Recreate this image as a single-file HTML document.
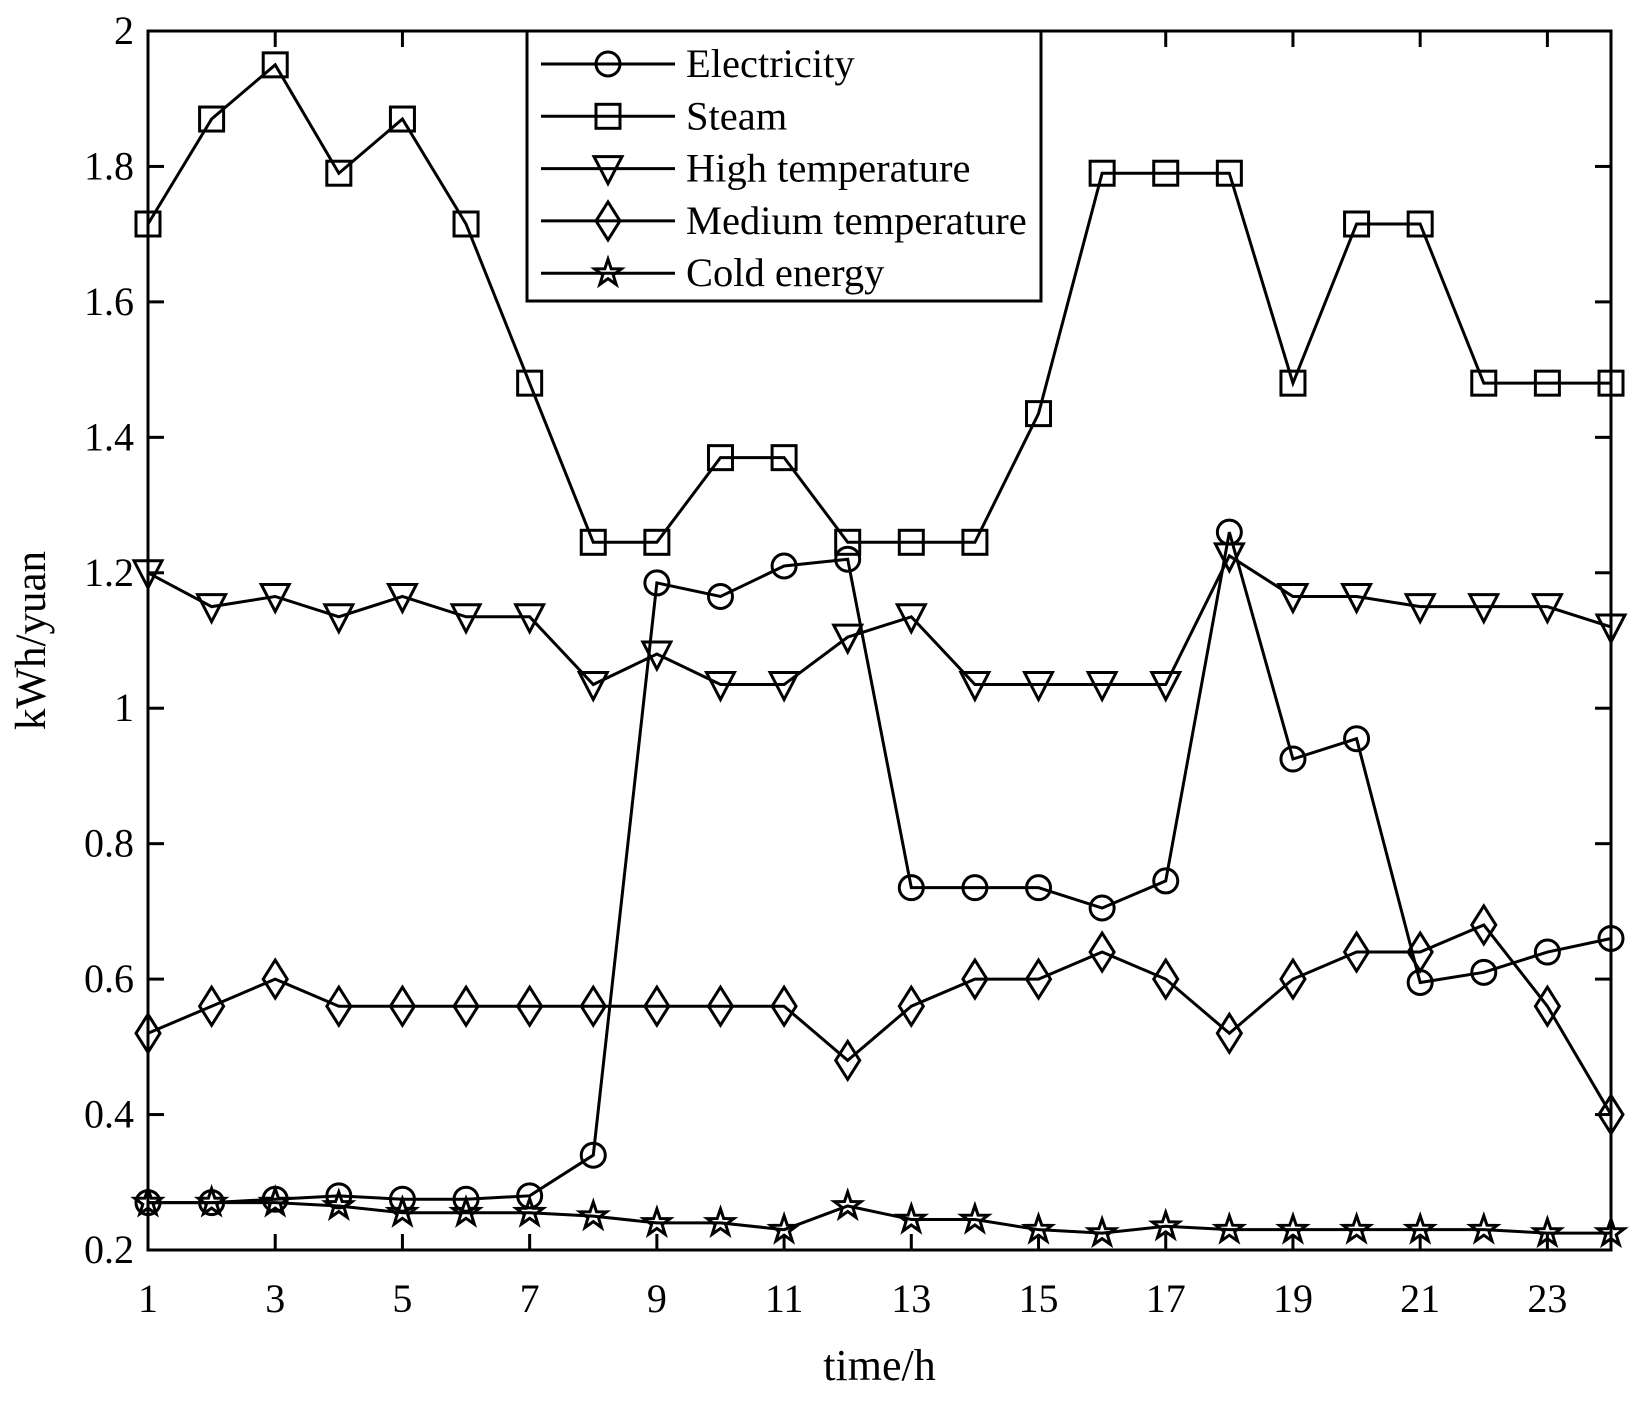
<!DOCTYPE html>
<html><head><meta charset="utf-8"><style>body{margin:0;background:#fff}svg{display:block}</style></head>
<body>
<svg id="s" width="1641" height="1402" xmlns="http://www.w3.org/2000/svg" font-family="Liberation Serif, serif"></svg>
<script>
const s=document.getElementById('s');
const L=148,R=1611,T=31,B=1250;
const X=h=>L+(h-1)*(R-L)/23, Y=v=>B-(v-0.2)*(B-T)/1.8;
let o='<rect width="1641" height="1402" fill="#fff"/>';
o+=`<rect x="${L}" y="${T}" width="${R-L}" height="${B-T}" fill="none" stroke="#000" stroke-width="3"/>`;
for(let v=0.2;v<=2.001;v+=0.2){const y=Y(v);o+=`<line x1="${L}" y1="${y}" x2="${L+16}" y2="${y}" stroke="#000" stroke-width="3"/><line x1="${R}" y1="${y}" x2="${R-16}" y2="${y}" stroke="#000" stroke-width="3"/>`;
const t=(Math.round(v*10)/10).toString();o+=`<text x="${L-14}" y="${y+13}" font-size="40" text-anchor="end">${t}</text>`;}
for(let h=1;h<=23;h+=2){const x=X(h);o+=`<line x1="${x}" y1="${B}" x2="${x}" y2="${B-16}" stroke="#000" stroke-width="3"/><line x1="${x}" y1="${T}" x2="${x}" y2="${T+16}" stroke="#000" stroke-width="3"/><text x="${x}" y="${B+62}" font-size="40" text-anchor="middle">${h}</text>`;}
o+=`<text x="${(L+R)/2}" y="1380" font-size="44" text-anchor="middle">time/h</text>`;
o+=`<text transform="translate(45,${(T+B)/2}) rotate(-90)" font-size="43" text-anchor="middle">kWh/yuan</text>`;
const D={
c:[0.27,0.27,0.275,0.28,0.275,0.275,0.28,0.34,1.185,1.165,1.21,1.22,0.735,0.735,0.735,0.705,0.745,1.26,0.925,0.955,0.595,0.61,0.64,0.66],
s:[1.715,1.87,1.95,1.79,1.87,1.715,1.48,1.245,1.245,1.37,1.37,1.245,1.245,1.245,1.435,1.79,1.79,1.79,1.48,1.715,1.715,1.48,1.48,1.48],
t:[1.2,1.15,1.165,1.135,1.165,1.135,1.135,1.035,1.08,1.035,1.035,1.105,1.135,1.035,1.035,1.035,1.035,1.225,1.165,1.165,1.15,1.15,1.15,1.12],
d:[0.52,0.56,0.6,0.56,0.56,0.56,0.56,0.56,0.56,0.56,0.56,0.48,0.56,0.6,0.6,0.64,0.6,0.52,0.6,0.64,0.64,0.68,0.56,0.40],
p:[0.27,0.27,0.27,0.265,0.255,0.255,0.255,0.25,0.24,0.24,0.23,0.265,0.245,0.245,0.23,0.225,0.235,0.23,0.23,0.23,0.23,0.23,0.225,0.225]};
function mk(k,x,y){const a='fill="none" stroke="#000" stroke-width="3"';
if(k=='c')return `<circle cx="${x}" cy="${y}" r="12" ${a}/>`;
if(k=='s')return `<rect x="${x-12}" y="${y-12}" width="24" height="24" ${a}/>`;
if(k=='t')return `<polygon points="${x-14},${y-12} ${x+14},${y-12} ${x},${y+15}" ${a}/>`;
if(k=='d')return `<polygon points="${x},${y-19} ${x+12},${y} ${x},${y+19} ${x-12},${y}" ${a}/>`;
let p=[];for(let i=0;i<10;i++){const r=i%2?5.5:14,an=-Math.PI/2+i*Math.PI/5;p.push((x+r*Math.cos(an)).toFixed(1)+','+(y+r*Math.sin(an)).toFixed(1));}
return `<polygon points="${p.join(' ')}" ${a}/>`;}
for(const k in D){o+=`<polyline points="${D[k].map((v,i)=>X(i+1)+','+Y(v)).join(' ')}" fill="none" stroke="#000" stroke-width="3"/>`;
D[k].forEach((v,i)=>o+=mk(k,X(i+1),Y(v)));}
o+=`<rect x="527" y="31" width="514" height="270" fill="#fff" stroke="#000" stroke-width="3"/>`;
const names=[['c','Electricity'],['s','Steam'],['t','High temperature'],['d','Medium temperature'],['p','Cold energy']];
names.forEach((n,i)=>{const y=64+i*52.3;o+=`<line x1="541" y1="${y}" x2="675" y2="${y}" stroke="#000" stroke-width="3"/>`+mk(n[0],608,y)+`<text x="686" y="${y+13}" font-size="40.5">${n[1]}</text>`;});
s.innerHTML=o;
</script>
</body></html>
